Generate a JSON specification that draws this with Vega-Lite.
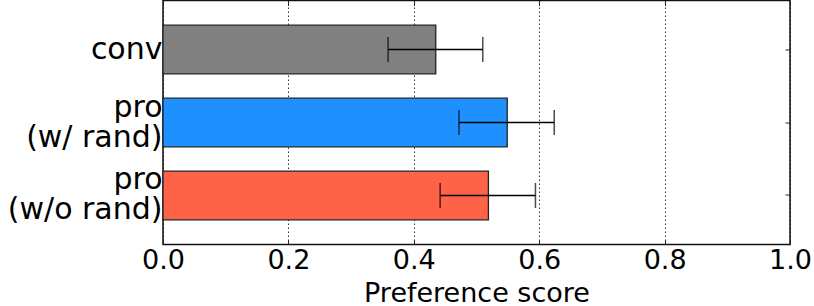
{
  "$schema": "https://vega.github.io/schema/vega-lite/v6.json",
  "width": 627,
  "height": 244,
  "autosize": "none",
  "padding": {"left": 163, "top": 0.5, "right": 24, "bottom": 61.5},
  "config": {
    "font": "DejaVu Sans",
    "view": {"stroke": "#111", "strokeWidth": 1.5},
    "axis": {"labelColor": "#000", "titleColor": "#000", "tickColor": "#222"}
  },
  "data": {
    "values": [
      {"method": "conv", "score": 0.435, "lo": 0.359, "hi": 0.510},
      {"method": "pro\n(w/ rand)", "score": 0.549, "lo": 0.472, "hi": 0.624},
      {"method": "pro\n(w/o rand)", "score": 0.519, "lo": 0.442, "hi": 0.594}
    ]
  },
  "encoding": {
    "y": {
      "field": "method",
      "type": "nominal",
      "sort": null,
      "scale": {"paddingInner": 0.333, "paddingOuter": 0.338}
    }
  },
  "resolve": {"axis": {"x": "independent", "y": "independent"}},
  "layer": [
    {
      "mark": {"type": "bar", "stroke": "#222", "strokeWidth": 1.3},
      "encoding": {
        "x": {
          "field": "score",
          "type": "quantitative",
          "scale": {"domain": [0, 1], "nice": false},
          "axis": {
            "orient": "bottom",
            "values": [0, 0.2, 0.4, 0.6, 0.8, 1.0],
            "format": ".1f",
            "grid": true,
            "gridColor": "#000",
            "gridDash": [1.5, 2.5],
            "gridWidth": 1,
            "gridOpacity": 0.8,
            "domain": false,
            "tickSize": -5,
            "labelFontSize": 27,
            "labelPadding": 8,
            "labelFlush": false,
            "title": "Preference score",
            "titleFontSize": 27,
            "titleFontWeight": "normal",
            "titlePadding": 7
          }
        },
        "y": {
          "field": "method",
          "type": "nominal",
          "sort": null,
          "axis": {
            "orient": "left",
            "title": null,
            "domain": false,
            "tickSize": -5,
            "labelFontSize": 30,
            "labelLineHeight": 30,
            "labelPadding": 6,
            "labelExpr": "split(datum.label, '\\n')",
            "labelOffset": {"expr": "indexof(datum.value, '\\n') >= 0 ? -15 : 0"}
          }
        },
        "color": {
          "field": "method",
          "type": "nominal",
          "sort": null,
          "scale": {
            "domain": ["conv", "pro\n(w/ rand)", "pro\n(w/o rand)"],
            "range": ["#808080", "#1E90FF", "#FF6347"]
          },
          "legend": null
        }
      }
    },
    {
      "mark": {"type": "rule", "color": "#000", "strokeWidth": 1.5},
      "encoding": {
        "x": {"field": "lo", "type": "quantitative", "axis": null},
        "x2": {"field": "hi"},
        "y": {"field": "method", "type": "nominal", "sort": null, "axis": null}
      }
    },
    {
      "mark": {"type": "tick", "color": "#000", "thickness": 1.5, "size": 25},
      "encoding": {
        "x": {"field": "lo", "type": "quantitative", "axis": null},
        "y": {"field": "method", "type": "nominal", "sort": null, "axis": null}
      }
    },
    {
      "mark": {"type": "tick", "color": "#000", "thickness": 1.5, "size": 25},
      "encoding": {
        "x": {"field": "hi", "type": "quantitative", "axis": null},
        "y": {"field": "method", "type": "nominal", "sort": null, "axis": null}
      }
    },
    {
      "mark": {"type": "tick", "opacity": 0},
      "encoding": {
        "x": {
          "field": "score",
          "type": "quantitative",
          "axis": {
            "orient": "top",
            "values": [0, 0.2, 0.4, 0.6, 0.8, 1.0],
            "labels": false,
            "domain": false,
            "grid": false,
            "tickSize": -5,
            "title": null
          }
        },
        "y": {
          "field": "method",
          "type": "nominal",
          "sort": null,
          "axis": {
            "orient": "right",
            "labels": false,
            "domain": false,
            "grid": false,
            "tickSize": -5,
            "title": null
          }
        }
      }
    }
  ]
}
